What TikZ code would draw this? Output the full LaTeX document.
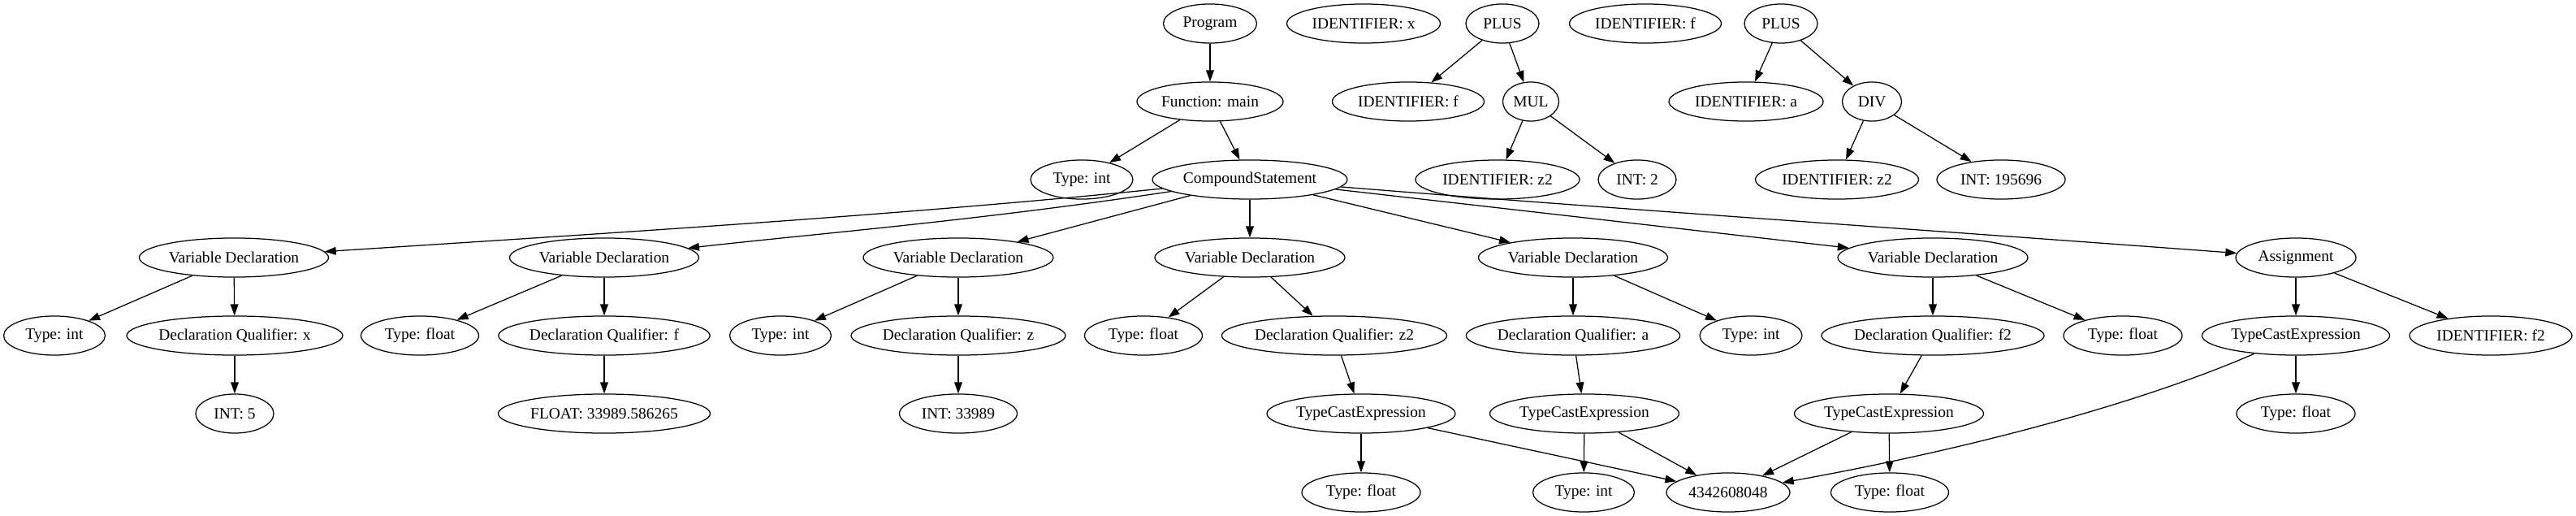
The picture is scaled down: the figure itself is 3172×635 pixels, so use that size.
\documentclass[tikz,border=0pt]{standalone}
\usepackage{fontspec}
\setmainfont{Liberation Serif}
\usetikzlibrary{arrows.meta,shapes.geometric}
\begin{document}
\begin{tikzpicture}[x=0.72pt,y=-0.72pt,
  nd/.style={ellipse,draw,line width=0.9pt,inner sep=0pt,minimum height=34.6pt,
    font=\fontsize{14}{16}\selectfont},
  ew/.style={minimum width=#1*0.72pt},
  edge/.style={line width=0.9pt,-{Triangle[length=10pt,width=7pt]}}]
\useasboundingbox (0,0) rectangle (3172,635);
% row 1
\node[nd,ew=115] (prog) at (1490,29) {Program};
\node[nd,ew=189] (idx) at (1679,29) {IDENTIFIER: x};
\node[nd,ew=90] (plusa) at (1850,29) {PLUS};
\node[nd,ew=187] (idft) at (2026,29) {IDENTIFIER: f};
\node[nd,ew=90] (plusb) at (2193,29) {PLUS};
% row 2
\node[nd,ew=180] (func) at (1490,125) {Function: main};
\node[nd,ew=187] (idfa) at (1734,125) {IDENTIFIER: f};
\node[nd,ew=69] (mul) at (1885,125) {MUL};
\node[nd,ew=190] (ida) at (2150,125) {IDENTIFIER: a};
\node[nd,ew=73] (div) at (2305,125) {DIV};
% row 3
\node[nd,ew=126] (tint0) at (1332,221) {Type: int};
\node[nd,ew=240] (comp) at (1539,221) {CompoundStatement};
\node[nd,ew=202] (idza) at (1844,221) {IDENTIFIER: z2};
\node[nd,ew=96] (intb) at (2016,221) {INT: 2};
\node[nd,ew=201] (idzb) at (2262,221) {IDENTIFIER: z2};
\node[nd,ew=158] (intc) at (2464,221) {INT: 195696};
% row 4
\node[nd,ew=233] (vda) at (288,317) {Variable Declaration};
\node[nd,ew=233] (vdb) at (744,317) {Variable Declaration};
\node[nd,ew=234] (vdc) at (1180,317) {Variable Declaration};
\node[nd,ew=234] (vdd) at (1539,317) {Variable Declaration};
\node[nd,ew=233] (vde) at (1937,317) {Variable Declaration};
\node[nd,ew=234] (vdf) at (2380,317) {Variable Declaration};
\node[nd,ew=148] (asg) at (2827,317) {Assignment};
% row 5
\node[nd,ew=125] (ti1) at (67,413) {Type: int};
\node[nd,ew=266] (dqx) at (289,413) {Declaration Qualifier: x};
\node[nd,ew=145] (tf2) at (517,413) {Type: float};
\node[nd,ew=259] (dqf) at (744,413) {Declaration Qualifier: f};
\node[nd,ew=125] (ti3) at (961,413) {Type: int};
\node[nd,ew=264] (dqz) at (1180,413) {Declaration Qualifier: z};
\node[nd,ew=145] (tf4) at (1408,413) {Type: float};
\node[nd,ew=276] (dqzz) at (1643,413) {Declaration Qualifier: z2};
\node[nd,ew=263] (dqa) at (1937,413) {Declaration Qualifier: a};
\node[nd,ew=126] (ti5) at (2156,413) {Type: int};
\node[nd,ew=273] (dqff) at (2380,413) {Declaration Qualifier: f2};
\node[nd,ew=146] (tf6) at (2614,413) {Type: float};
\node[nd,ew=231] (tced) at (2827,413) {TypeCastExpression};
\node[nd,ew=200] (idff) at (3067,413) {IDENTIFIER: f2};
% row 6
\node[nd,ew=96] (intf) at (289,509) {INT: 5};
\node[nd,ew=261] (flt) at (744,509) {FLOAT: 33989.586265};
\node[nd,ew=145] (intz) at (1180,509) {INT: 33989};
\node[nd,ew=232] (tcea) at (1676,509) {TypeCastExpression};
\node[nd,ew=233] (tceb) at (1951,509) {TypeCastExpression};
\node[nd,ew=233] (tcec) at (2326,509) {TypeCastExpression};
\node[nd,ew=146] (tfa) at (2827,509) {Type: float};
% row 7
\node[nd,ew=146] (tfba) at (1676,606) {Type: float};
\node[nd,ew=125] (tibb) at (1950,606) {Type: int};
\node[nd,ew=152] (num) at (2128,606) {4342608048};
\node[nd,ew=145] (tfbc) at (2327,606) {Type: float};
% edges
\draw[edge] (prog) -- (func);
\draw[edge] (func) -- (tint0);
\draw[edge] (func) -- (comp);
\draw[edge] (plusa) -- (idfa);
\draw[edge] (plusa) -- (mul);
\draw[edge] (mul) -- (idza);
\draw[edge] (mul) -- (intb);
\draw[edge] (plusb) -- (ida);
\draw[edge] (plusb) -- (div);
\draw[edge] (div) -- (idzb);
\draw[edge] (div) -- (intc);
\draw[edge] (comp) .. controls (1100,266) and (700,290) .. (vda);
\draw[edge] (comp) .. controls (1200,272) and (1000,288) .. (vdb);
\draw[edge] (comp) -- (vdc);
\draw[edge] (comp) -- (vdd);
\draw[edge] (comp) -- (vde);
\draw[edge] (comp) .. controls (1900,262) and (2100,285) .. (vdf);
\draw[edge] (comp) .. controls (2000,258) and (2400,285) .. (asg);
\draw[edge] (vda) -- (ti1);
\draw[edge] (vda) -- (dqx);
\draw[edge] (dqx) -- (intf);
\draw[edge] (vdb) -- (tf2);
\draw[edge] (vdb) -- (dqf);
\draw[edge] (dqf) -- (flt);
\draw[edge] (vdc) -- (ti3);
\draw[edge] (vdc) -- (dqz);
\draw[edge] (dqz) -- (intz);
\draw[edge] (vdd) -- (tf4);
\draw[edge] (vdd) -- (dqzz);
\draw[edge] (dqzz) -- (tcea);
\draw[edge] (tcea) -- (tfba);
\draw[edge] (tcea) -- (num);
\draw[edge] (vde) -- (dqa);
\draw[edge] (vde) -- (ti5);
\draw[edge] (dqa) -- (tceb);
\draw[edge] (tceb) -- (tibb);
\draw[edge] (tceb) -- (num);
\draw[edge] (vdf) -- (dqff);
\draw[edge] (vdf) -- (tf6);
\draw[edge] (dqff) -- (tcec);
\draw[edge] (tcec) -- (num);
\draw[edge] (tcec) -- (tfbc);
\draw[edge] (asg) -- (tced);
\draw[edge] (asg) -- (idff);
\draw[edge] (tced) -- (tfa);
\draw[edge] (tced) .. controls (2650,490) and (2450,548) .. (num);
\end{tikzpicture}
\end{document}
